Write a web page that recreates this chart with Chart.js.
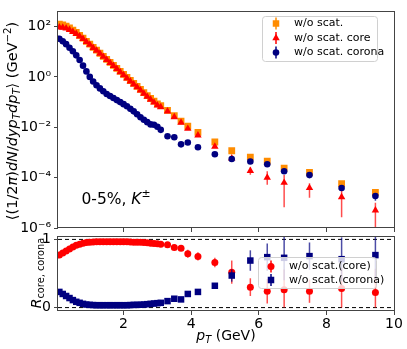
<!DOCTYPE html>
<html>
<head>
<meta charset="utf-8">
<script src="https://cdn.jsdelivr.net/npm/chart.js@4.4.1/dist/chart.umd.min.js"></script>
<style>
html, body { margin: 0; padding: 0; background: #fff; }
#wrap { position: relative; width: 407px; height: 349px; }
#wrap canvas { position: absolute; left: 0; top: 0; }
</style>
</head>
<body>
<div id="wrap">
  <canvas id="topChart" width="407" height="349"></canvas>
  <canvas id="botChart" width="407" height="349"></canvas>
</div>
<script>
// pT bins (GeV)
var pt = [0.1,0.2,0.3,0.4,0.5,0.6,0.7,0.8,0.9,1.0,1.1,1.2,1.3,1.4,1.5,1.6,1.7,1.8,1.9,2.0,
          2.1,2.2,2.3,2.4,2.5,2.6,2.7,2.8,2.9,3.0,3.1,3.3,3.5,3.7,3.9,4.2,4.7,5.2,5.75,6.25,
          6.75,7.5,8.45,9.45];

// spectra, top panel
var total = [126,117,105,89,72,58,45,35,26,20,15,11.5,8.7,6.6,5.0,3.8,2.9,2.2,1.66,1.26,
             0.95,0.72,0.55,0.42,0.32,0.24,0.18,0.14,0.11,0.085,0.072,0.047,0.029,0.0174,0.011,0.0063,0.0026,0.00117,6.5e-4,4.5e-4,
             2.4e-4,1.6e-4,5.8e-5,2.6e-5];
var core = [93,91,85,74.5,62,51,41,32.5,24.5,19,14.4,11.1,8.4,6.35,4.8,3.63,2.76,2.09,1.57,1.18,
            0.88,0.67,0.51,0.39,0.296,0.22,0.164,0.127,0.097,0.0745,0.064,0.043,0.0255,0.0153,0.0088,0.0048,0.0017,5.9e-4,1.86e-4,1.0e-4,
            6.3e-5,3.9e-5,1.7e-5,5e-6];
var corona = [33,26,20,14.5,10.5,7.2,4.7,2.8,1.66,1.0,0.66,0.47,0.35,0.27,0.21,0.174,0.145,0.12,0.1,0.083,
              0.068,0.054,0.043,0.033,0.025,0.02,0.016,0.013,0.0126,0.0105,0.0079,0.0044,0.004,0.0021,0.0025,0.0016,8.5e-4,5.5e-4,4.4e-4,3.4e-4,
              1.8e-4,1.26e-4,3.9e-5,1.86e-5];

// error bars of the spectra (only where visible)
var coreErrPt = [4.7, 5.2, 5.75, 6.25, 6.75, 7.5, 8.45, 9.45];
var coreLo = [0.0015, 4.8e-4, 1.3e-4, 5.2e-5, 6.6e-6, 1.6e-5, 2.7e-6, 1e-7];
var coreHi = [0.0019, 7.0e-4, 2.6e-4, 1.8e-4, 1.26e-4, 6e-5, 3.4e-5, 1e-5];
var coronaErrPt = [8.45, 9.45];
var coronaLo = [3.3e-5, 1.2e-5];
var coronaHi = [4.6e-5, 2.3e-5];

// ratios, bottom panel
var rCore = [0.77,0.80,0.83,0.86,0.89,0.915,0.93,0.945,0.955,0.96,0.963,0.965,0.965,0.965,0.965,0.965,0.965,0.965,0.965,0.965,
             0.965,0.963,0.96,0.96,0.958,0.955,0.95,0.945,0.94,0.935,0.93,0.92,0.88,0.87,0.79,0.75,0.66,0.52,0.30,0.24,
             0.26,0.24,0.28,0.22];
var rCorona = [0.23,0.20,0.17,0.14,0.11,0.085,0.07,0.055,0.045,0.04,0.037,0.035,0.035,0.035,0.035,0.035,0.035,0.035,0.035,0.035,
               0.035,0.037,0.04,0.04,0.042,0.045,0.05,0.055,0.06,0.065,0.07,0.095,0.13,0.12,0.20,0.23,0.32,0.47,0.69,0.74,
               0.73,0.755,0.71,0.77];
var rErrPt = [3.7, 3.9, 4.2, 4.7, 5.2, 5.75, 6.25, 6.75, 7.5, 8.45, 9.45];
var rCoreErr = [0.03, 0.06, 0.06, 0.07, 0.17, 0.13, 0.18, 0.30, 0.17, 0.30, 0.35];
var rCoronaErr = [0.01, 0.02, 0.02, 0.03, 0.09, 0.15, 0.20, 0.33, 0.20, 0.32, 0.35];

var logTicks = [1e-6, 1e-4, 1e-2, 1, 100];
var logTickLabels = ['10\u207B\u2076', '10\u207B\u2074', '10\u207B\u00B2', '10\u2070', '10\u00B2'];
var xTicks = [2, 4, 6, 8, 10];

var ORANGE = '#ff8c00', RED = '#ff0000', NAVY = '#000080';
var FONT = '"DejaVu Sans", sans-serif';
var xMin = 0.06, xMax = 10;

Chart.defaults.font.family = FONT;
Chart.defaults.color = '#000';

function pts(ys) {
  return pt.map(function(x, i) { return { x: x, y: ys[i] }; });
}
function errArr(ePt, vals) {
  return pt.map(function(x) {
    var k = ePt.indexOf(x);
    return k < 0 ? null : vals[k];
  });
}
function symErr(ys, ePt, e, sign) {
  return pt.map(function(x, i) {
    var k = ePt.indexOf(x);
    return k < 0 ? null : ys[i] + sign * e[k];
  });
}

// mixed-style text (italic, sub/superscripts)
function rich(ctx, parts, x, y, size, rot) {
  var w = 0;
  parts.forEach(function(p) {
    p.fs = p.s ? size * 0.7 : size;
    ctx.font = (p.i ? 'italic ' : '') + p.fs + 'px ' + FONT;
    p.w = ctx.measureText(p.t).width;
    w += p.w;
  });
  ctx.save();
  ctx.translate(x, y);
  ctx.rotate(rot || 0);
  ctx.textAlign = 'left';
  ctx.textBaseline = 'alphabetic';
  ctx.fillStyle = '#000';
  var cx = -w / 2;
  parts.forEach(function(p) {
    ctx.font = (p.i ? 'italic ' : '') + p.fs + 'px ' + FONT;
    var dy = p.s === 'sub' ? size * 0.22 : (p.s === 'sup' ? -size * 0.42 : 0);
    ctx.fillText(p.t, cx, size * 0.36 + dy);
    cx += p.w;
  });
  ctx.restore();
}

function marker(ctx, style, x, y, r, color) {
  ctx.fillStyle = color;
  ctx.beginPath();
  if (style === 'rect') {
    var s = r * Math.SQRT1_2;
    ctx.rect(x - s, y - s, 2 * s, 2 * s);
  } else if (style === 'triangle') {
    ctx.moveTo(x, y - r);
    ctx.lineTo(x + r * 0.866, y + r * 0.5);
    ctx.lineTo(x - r * 0.866, y + r * 0.5);
    ctx.closePath();
  } else {
    ctx.arc(x, y, r, 0, Math.PI * 2);
  }
  ctx.fill();
}

function legendBox(ctx, x, y, w, h) {
  ctx.save();
  ctx.beginPath();
  if (ctx.roundRect) ctx.roundRect(x, y, w, h, 3); else ctx.rect(x, y, w, h);
  ctx.fillStyle = 'rgba(255,255,255,0.8)';
  ctx.fill();
  ctx.strokeStyle = '#d0d0d0';
  ctx.lineWidth = 1;
  ctx.stroke();
  ctx.restore();
}

function legendRow(ctx, style, color, r, mx, ty, tx, label) {
  ctx.save();
  ctx.strokeStyle = color;
  ctx.lineWidth = 1.5;
  ctx.beginPath();
  ctx.moveTo(mx, ty - 6);
  ctx.lineTo(mx, ty + 6);
  ctx.stroke();
  marker(ctx, style, mx, ty, r, color);
  ctx.fillStyle = '#000';
  ctx.font = '11px ' + FONT;
  ctx.textBaseline = 'middle';
  ctx.fillText(label, tx, ty);
  ctx.restore();
}

var errPlugin = {
  id: 'errbars',
  beforeDatasetDraw: function(chart, args) {
    var ds = chart.data.datasets[args.index];
    if (!ds.errLo) return;
    var ctx = chart.ctx, xs = chart.scales.x, ys = chart.scales.y, a = chart.chartArea;
    ctx.save();
    ctx.beginPath();
    ctx.rect(a.left, a.top, a.right - a.left, a.bottom - a.top);
    ctx.clip();
    ctx.strokeStyle = ds.errColor;
    ctx.lineWidth = 1.5;
    ds.data.forEach(function(p, i) {
      var lo = ds.errLo[i], hi = ds.errHi[i];
      if (lo == null || hi == null) return;
      var px = xs.getPixelForValue(p.x);
      ctx.beginPath();
      ctx.moveTo(px, ys.getPixelForValue(Math.max(lo, 1e-9)));
      ctx.lineTo(px, ys.getPixelForValue(hi));
      ctx.stroke();
    });
    ctx.restore();
  }
};

var framePlugin = {
  id: 'frame',
  afterDatasetsDraw: function(chart) {
    var a = chart.chartArea, ctx = chart.ctx;
    ctx.save();
    ctx.strokeStyle = '#444';
    ctx.lineWidth = 1;
    ctx.strokeRect(Math.round(a.left) - 0.5, Math.round(a.top) + 0.5, Math.round(a.right - a.left) + 1, Math.round(a.bottom - a.top) - 1);
    ctx.restore();
  }
};

var topDecor = {
  id: 'topDecor',
  afterDraw: function(chart) {
    var ctx = chart.ctx;
    legendBox(ctx, 262.5, 16.5, 115, 45);
    legendRow(ctx, 'rect', ORANGE, 4.6, 276, 23.5, 294, 'w/o scat.');
    legendRow(ctx, 'triangle', RED, 4.3, 276, 38, 294, 'w/o scat. core');
    legendRow(ctx, 'circle', NAVY, 3.3, 276, 52.5, 294, 'w/o scat. corona');
    rich(ctx, [{t: '0-5%, '}, {t: 'K', i: true}, {t: '\u00B1', s: 'sup'}], 116, 198, 15.5);
    rich(ctx, [
      {t: '\u27E8(1/2'}, {t: '\u03C0', i: true}, {t: ')'}, {t: 'dN', i: true}, {t: '/'},
      {t: 'dyp', i: true}, {t: 'T', i: true, s: 'sub'}, {t: 'dp', i: true}, {t: 'T', i: true, s: 'sub'},
      {t: '\u27E9 (GeV'}, {t: '\u22122', s: 'sup'}, {t: ')'}
    ], 12, 121, 14.5, -Math.PI / 2);
  }
};

var botDecor = {
  id: 'botDecor',
  afterDraw: function(chart) {
    var ctx = chart.ctx;
    legendBox(ctx, 258.5, 257.5, 118, 31);
    legendRow(ctx, 'circle', RED, 3.5, 271, 266.5, 289, 'w/o scat.(core)');
    legendRow(ctx, 'rect', NAVY, 4.6, 271, 280, 289, 'w/o scat.(corona)');
    rich(ctx, [{t: 'p', i: true}, {t: 'T', i: true, s: 'sub'}, {t: ' (GeV)'}], 226, 335, 14);
    rich(ctx, [{t: 'R', i: true}, {t: 'core, corona', s: 'sub'}], 36, 273, 14, -Math.PI / 2);
  }
};

function xScale(showLabels, h) {
  return {
    type: 'linear', min: xMin, max: xMax,
    afterBuildTicks: function(s) { s.ticks = xTicks.map(function(v) { return { value: v }; }); },
    afterFit: function(s) { s.height = h; },
    ticks: {
      font: { size: 14 }, color: '#000', padding: 1, maxRotation: 0, autoSkip: false,
      callback: function(v) { return showLabels ? String(v) : ''; }
    },
    grid: { drawOnChartArea: false, drawTicks: true, tickLength: 4, color: '#444' },
    border: { display: false }
  };
}

new Chart(document.getElementById('topChart'), {
  type: 'scatter',
  data: {
    datasets: [
      { label: 'w/o scat. corona', data: pts(corona), order: 0, pointStyle: 'circle', pointRadius: 3.3,
        backgroundColor: NAVY, borderWidth: 0,
        errLo: errArr(coronaErrPt, coronaLo), errHi: errArr(coronaErrPt, coronaHi), errColor: 'rgba(0,0,128,0.75)' },
      { label: 'w/o scat. core', data: pts(core), order: 1, pointStyle: 'triangle', pointRadius: 4.3,
        backgroundColor: RED, borderWidth: 0,
        errLo: errArr(coreErrPt, coreLo), errHi: errArr(coreErrPt, coreHi), errColor: 'rgba(255,0,0,0.7)' },
      { label: 'w/o scat.', data: pts(total), order: 2, pointStyle: 'rect', pointRadius: 4.8,
        backgroundColor: ORANGE, borderWidth: 0 }
    ]
  },
  options: {
    responsive: false, animation: false, events: [],
    layout: { padding: { top: 4, right: 13, left: 0, bottom: 0 } },
    plugins: { legend: { display: false }, tooltip: { enabled: false } },
    scales: {
      x: xScale(false, 121),
      y: {
        type: 'logarithmic', min: 1e-6, max: 400,
        afterBuildTicks: function(s) { s.ticks = logTicks.map(function(v) { return { value: v }; }); },
        afterFit: function(s) { s.width = 58; },
        ticks: {
          font: { size: 14 }, color: '#000', padding: 3,
          callback: function(v) { var k = logTicks.indexOf(v); return k < 0 ? '' : logTickLabels[k]; }
        },
        grid: { drawOnChartArea: false, drawTicks: true, tickLength: 4, color: '#444' },
        border: { display: false }
      }
    }
  },
  plugins: [errPlugin, framePlugin, topDecor]
});

new Chart(document.getElementById('botChart'), {
  type: 'scatter',
  data: {
    datasets: [
      { type: 'line', data: [{ x: xMin, y: 1 }, { x: xMax, y: 1 }], borderColor: '#000', borderWidth: 1,
        borderDash: [4, 3], pointRadius: 0, order: 3 },
      { type: 'line', data: [{ x: xMin, y: 0 }, { x: xMax, y: 0 }], borderColor: '#000', borderWidth: 1,
        borderDash: [4, 3], pointRadius: 0, order: 3 },
      { label: 'w/o scat.(corona)', data: pts(rCorona), order: 0, pointStyle: 'rect', pointRadius: 4.6,
        backgroundColor: NAVY, borderWidth: 0,
        errLo: symErr(rCorona, rErrPt, rCoronaErr, -1), errHi: symErr(rCorona, rErrPt, rCoronaErr, 1), errColor: 'rgba(0,0,128,0.7)' },
      { label: 'w/o scat.(core)', data: pts(rCore), order: 1, pointStyle: 'circle', pointRadius: 3.5,
        backgroundColor: RED, borderWidth: 0,
        errLo: symErr(rCore, rErrPt, rCoreErr, -1), errHi: symErr(rCore, rErrPt, rCoreErr, 1), errColor: 'rgba(255,0,0,0.7)' }
    ]
  },
  options: {
    responsive: false, animation: false, events: [],
    layout: { padding: { top: 236, right: 13, left: 0, bottom: 0 } },
    plugins: { legend: { display: false }, tooltip: { enabled: false } },
    scales: {
      x: xScale(true, 38),
      y: {
        type: 'linear', min: -0.05, max: 1.05,
        afterBuildTicks: function(s) { s.ticks = [{ value: 0 }, { value: 1 }]; },
        afterFit: function(s) { s.width = 58; },
        ticks: { font: { size: 14 }, color: '#000', padding: 3 },
        grid: { drawOnChartArea: false, drawTicks: true, tickLength: 4, color: '#444' },
        border: { display: false }
      }
    }
  },
  plugins: [errPlugin, framePlugin, botDecor]
});
</script>
</body>
</html>
